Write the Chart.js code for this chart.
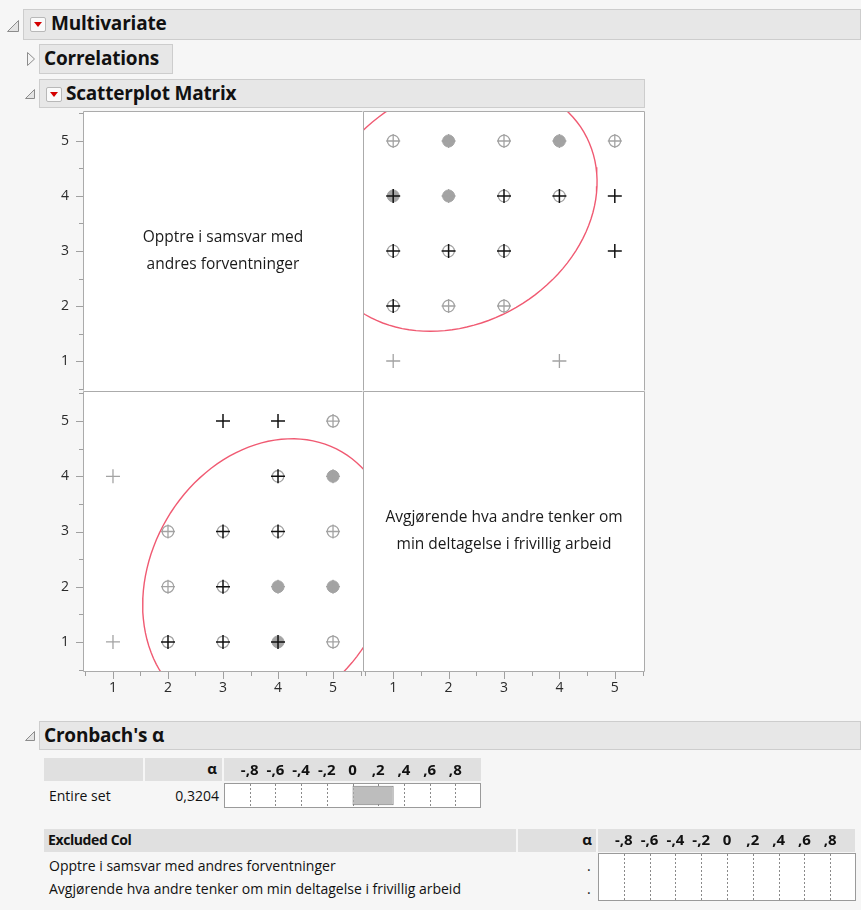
<!DOCTYPE html>
<html>
<head>
<meta charset="utf-8">
<script src="https://cdn.jsdelivr.net/npm/chart.js@4.4.0/dist/chart.umd.min.js"></script>
<style>
  body { margin: 0; background: #f6f6f6; font-family: "Open Sans", sans-serif; color: #111; }
  #page { position: relative; width: 861px; height: 910px; overflow: hidden; }
  .abs { position: absolute; }
  .hdr { position: absolute; background: #e7e7e7; border: 1px solid #cdcdcd; box-sizing: border-box;
         font-weight: bold; font-size: 19px; letter-spacing: -0.2px; white-space: nowrap; }
  .hdr span { position: absolute; top: 0px; }
  .btn { position: absolute; width: 16px; height: 15px; background: #fafafa; border: 1px solid #b8b8b8;
         box-sizing: border-box; border-radius: 2px; }
  .btn:after { content: ""; position: absolute; left: 3px; top: 4px; border-left: 4px solid transparent;
         border-right: 4px solid transparent; border-top: 5px solid #d40000; }
  .cell { position: absolute; background: #e0e0e0; font-size: 14px; }
  .txt { position: absolute; font-size: 14px; white-space: nowrap; }
  canvas { position: absolute; }
</style>
</head>
<body>
<div id="page">
  <!-- outline headers -->
  <svg class="abs" style="left:6px;top:19px" width="14" height="14"><polygon points="1.5,12.5 12.5,12.5 12.5,1.5" fill="#e4e4e4" stroke="#8c8c8c"/></svg>
  <div class="hdr" style="left:23px;top:9px;width:838px;height:31px"><div class="btn" style="left:6px;top:7px"></div><span style="left:27px">Multivariate</span></div>

  <svg class="abs" style="left:26px;top:51px" width="10" height="16"><polygon points="1.5,1.5 8.5,8 1.5,14.5" fill="#f4f4f4" stroke="#8c8c8c"/></svg>
  <div class="hdr" style="left:39px;top:44px;width:134px;height:30px"><span style="left:4px">Correlations</span></div>

  <svg class="abs" style="left:24px;top:88px" width="12" height="12"><polygon points="1.5,10.5 10.5,10.5 10.5,1.5" fill="#e4e4e4" stroke="#8c8c8c"/></svg>
  <div class="hdr" style="left:39px;top:79px;width:606px;height:29px"><div class="btn" style="left:6px;top:7px"></div><span style="left:26px">Scatterplot Matrix</span></div>

  <svg class="abs" style="left:24px;top:730px" width="12" height="12"><polygon points="1.5,10.5 10.5,10.5 10.5,1.5" fill="#e4e4e4" stroke="#8c8c8c"/></svg>
  <div class="hdr" style="left:39px;top:721px;width:822px;height:29px"><span style="left:4px">Cronbach's α</span></div>

  <!-- scatterplot matrix -->
  <canvas id="cTL" style="left:43px;top:111px" width="320" height="280"></canvas>
  <canvas id="cTR" style="left:363px;top:111px" width="282" height="280"></canvas>
  <canvas id="cBL" style="left:43px;top:391px" width="320" height="317"></canvas>
  <canvas id="cBR" style="left:363px;top:391px" width="282" height="317"></canvas>

  <!-- Cronbach table 1 -->
  <div class="cell" style="left:44px;top:758px;width:99px;height:23px"></div>
  <div class="cell" style="left:145px;top:758px;width:77px;height:23px"><span class="txt" style="right:5px;top:0px;font-weight:bold;font-size:15px">α</span></div>
  <div class="cell" style="left:224px;top:758px;width:257px;height:23px"></div>
  <div class="txt" style="left:49px;top:786px">Entire set</div>
  <div class="txt" id="alphaTxt" style="right:642px;top:786px"></div>
  <canvas id="cAlpha" style="left:224px;top:758px" width="257" height="50"></canvas>

  <!-- Cronbach table 2 -->
  <div class="cell" style="left:44px;top:829px;width:472px;height:23px"><span class="txt" style="left:4px;top:1px;font-weight:bold;letter-spacing:-0.4px">Excluded Col</span></div>
  <div class="cell" style="left:518px;top:829px;width:78px;height:23px"><span class="txt" style="right:4px;top:0px;font-weight:bold;font-size:15px">α</span></div>
  <div class="cell" style="left:598px;top:829px;width:257px;height:23px"></div>
  <div id="exclRows"></div>
  <canvas id="cExcl" style="left:598px;top:829px" width="258" height="72"></canvas>
</div>

<script>
// variables in the matrix (label lines)
const variables = [
  ['Opptre i samsvar med', 'andres forventninger'],
  ['Avgjørende hva andre tenker om', 'min deltagelse i frivillig arbeid']
];
const scaleTicks = [1, 2, 3, 4, 5];

// distinct value pairs and how JMP drew them
const opptre     = [5, 5, 5, 5, 5, 4, 4, 4, 4, 4, 3, 3, 3, 3, 2, 2, 2, 1, 1];
const avgjorende = [1, 2, 3, 4, 5, 1, 2, 3, 4, 5, 1, 2, 3, 5, 1, 2, 3, 1, 4];
const markType   = ['cp', 'dot', 'cp', 'dot', 'cp', 'bdot', 'dot', 'bc', 'bc', 'b',
                    'bc', 'bc', 'bc', 'b', 'bc', 'cp', 'cp', 'g', 'g'];

// 95% density ellipse (opptre, avgjorende)
const ellipseMean = [3.82, 2.15];
const ellipseHalf = [2.28, 2.53];
const ellipseR = 0.19;

// Cronbach's alpha
const alphaTicks = [-0.8, -0.6, -0.4, -0.2, 0, 0.2, 0.4, 0.6, 0.8];
const alphaTickLabels = ['-,8', '-,6', '-,4', '-,2', '0', ',2', ',4', ',6', ',8'];
const alphaSets = ['Entire set'];
const alphaValues = [0.3204];
const excludedCols = ['Opptre i samsvar med andres forventninger',
                      'Avgjørende hva andre tenker om min deltagelse i frivillig arbeid'];
const excludedAlpha = [null, null];

const FONT = '"Open Sans", sans-serif';

document.getElementById('alphaTxt').textContent = alphaValues[0].toFixed(4).replace('.', ',');
excludedCols.forEach((name, i) => {
  const top = 856 + i * 23;
  document.getElementById('exclRows').insertAdjacentHTML('beforeend',
    '<div class="txt" style="left:49px;top:' + top + 'px">' + name + '</div>' +
    '<div class="txt" style="left:587px;top:' + top + 'px">' + (excludedAlpha[i] == null ? '.' : excludedAlpha[i]) + '</div>');
});

// frame, ticks, and the diagonal label
const jmpCell = {
  id: 'jmpCell',
  beforeDraw(chart) {
    const a = chart.chartArea, ctx = chart.ctx;
    ctx.save();
    ctx.fillStyle = '#fff';
    ctx.fillRect(a.left, a.top, a.right - a.left, a.bottom - a.top);
    ctx.restore();
  },
  afterDraw(chart, args, opts) {
    const a = chart.chartArea, ctx = chart.ctx;
    ctx.save();
    ctx.strokeStyle = '#ababab';
    ctx.lineWidth = 1;
    // shared edges are drawn by the right / lower cell only
    const l = a.left + 0.5, t = a.top + 0.5, r = a.right - 0.5, b = a.bottom - 0.5;
    ctx.beginPath();
    ctx.moveTo(l, b); ctx.lineTo(l, t); ctx.lineTo(r, t);
    if (opts.right) { ctx.moveTo(r, t); ctx.lineTo(r, b); }
    if (opts.bottom) { ctx.moveTo(l, b); ctx.lineTo(r, b); }
    ctx.stroke();
    ctx.strokeStyle = '#a0a0a0';
    const marks = [];
    scaleTicks.forEach(v => { marks.push([v, 7]); marks.push([v - 0.5, 4]); });
    marks.push([scaleTicks[scaleTicks.length - 1] + 0.5, 4]);
    const xs = chart.scales.x, ys = chart.scales.y;
    ctx.beginPath();
    if (ys.options.display) {
      marks.forEach(([v, len]) => {
        const p = Math.round(ys.getPixelForValue(v)) + 0.5;
        if (p < a.top || p > a.bottom) return;
        ctx.moveTo(a.left - len, p); ctx.lineTo(a.left, p);
      });
    }
    if (xs.options.display) {
      marks.forEach(([v, len]) => {
        const p = Math.round(xs.getPixelForValue(v)) + 0.5;
        if (p < a.left || p > a.right) return;
        ctx.moveTo(p, a.bottom); ctx.lineTo(p, a.bottom + len);
      });
    }
    ctx.stroke();
    if (opts.lines) {
      ctx.fillStyle = '#1a1a1a';
      ctx.font = '15.5px ' + FONT;
      ctx.textAlign = 'center';
      ctx.textBaseline = 'middle';
      const cx = (a.left + a.right) / 2, cy = (a.top + a.bottom) / 2;
      opts.lines.forEach((ln, i) => ctx.fillText(ln, cx, cy + (i - (opts.lines.length - 1) / 2) * 27));
    }
    ctx.restore();
  }
};

function cellScale(axis, show) {
  return {
    type: 'linear', min: 0.455, max: 5.545, display: show,
    grid: { display: false, drawTicks: false },
    border: { display: false },
    ticks: { color: '#2a2a2a', font: { family: FONT, size: 14 }, padding: axis === 'x' ? 8 : 14 },
    afterBuildTicks: s => { s.ticks = scaleTicks.map(v => ({ value: v })); },
    afterFit: s => {
      if (!s.options.display) return;
      if (axis === 'x') s.height = 36; else s.width = 40;
      s.paddingTop = s.paddingBottom = s.paddingLeft = s.paddingRight = 0;
    }
  };
}

function pick(types, swap) {
  const pts = [];
  markType.forEach((t, i) => {
    if (!types.includes(t)) return;
    pts.push(swap ? { x: avgjorende[i], y: opptre[i] } : { x: opptre[i], y: avgjorende[i] });
  });
  return pts;
}

function ellipse(swap) {
  const pts = [];
  for (let d = 0; d <= 360; d += 3) {
    const t = d * Math.PI / 180;
    const o = ellipseMean[0] + ellipseHalf[0] * Math.cos(t);
    const v = ellipseMean[1] + ellipseHalf[1] * (ellipseR * Math.cos(t) + Math.sqrt(1 - ellipseR * ellipseR) * Math.sin(t));
    pts.push(swap ? { x: v, y: o } : { x: o, y: v });
  }
  return pts;
}

function scatterData(swap) {
  return {
    datasets: [
      { data: ellipse(swap), showLine: true, pointRadius: 0, borderColor: '#f05a72', borderWidth: 1.4,
        clip: 0, order: 10 },
      { data: pick(['dot', 'bdot'], swap), pointStyle: 'circle', pointRadius: 6, backgroundColor: '#a3a3a3',
        borderColor: '#a3a3a3', borderWidth: 1, order: 4 },
      { data: pick(['cp', 'bc'], swap), pointStyle: 'circle', pointRadius: 5.8, backgroundColor: 'rgba(0,0,0,0)',
        borderColor: '#a3a3a3', borderWidth: 1.3, order: 3 },
      { data: pick(['cp', 'dot', 'g'], swap), pointStyle: 'cross', pointRadius: 7, borderColor: '#a3a3a3',
        borderWidth: 1.3, order: 2 },
      { data: pick(['bc', 'b', 'bdot'], swap), pointStyle: 'cross', pointRadius: 7, borderColor: '#111',
        borderWidth: 1.5, order: 1 }
    ]
  };
}

function cellChart(id, showX, showY, data, lines, right, bottom) {
  new Chart(document.getElementById(id), {
    type: 'scatter',
    data: data || { datasets: [] },
    options: {
      responsive: false, animation: false,
      layout: { padding: 0, autoPadding: false },
      plugins: { legend: { display: false }, tooltip: { enabled: false },
                 jmpCell: { lines: lines, right: right, bottom: bottom } },
      scales: { x: cellScale('x', showX), y: cellScale('y', showY) }
    },
    plugins: [jmpCell]
  });
}

cellChart('cTL', false, true, null, variables[0], false, false);
cellChart('cTR', false, false, scatterData(true), null, true, false);
cellChart('cBL', true, true, scatterData(false), null, false, true);
cellChart('cBR', true, false, null, variables[1], true, true);

// alpha bar boxes
const alphaBox = {
  id: 'alphaBox',
  beforeDatasetsDraw(chart) {
    const a = chart.chartArea, ctx = chart.ctx, xs = chart.scales.x;
    ctx.save();
    ctx.fillStyle = '#fff';
    ctx.fillRect(a.left, a.top, a.right - a.left, a.bottom - a.top);
    ctx.strokeStyle = '#8a8a8a';
    ctx.setLineDash([2, 2]);
    ctx.beginPath();
    alphaTicks.forEach(v => {
      const p = Math.round(xs.getPixelForValue(v)) + 0.5;
      ctx.moveTo(p, a.top + 1); ctx.lineTo(p, a.bottom - 1);
    });
    ctx.stroke();
    ctx.restore();
  },
  afterDraw(chart) {
    const a = chart.chartArea, ctx = chart.ctx;
    ctx.save();
    ctx.strokeStyle = '#9a9a9a';
    ctx.strokeRect(a.left + 0.5, a.top + 0.5, a.right - a.left - 1, a.bottom - a.top - 1);
    ctx.restore();
  }
};

function alphaChart(id, labels, values, axisH, barPct) {
  new Chart(document.getElementById(id), {
    type: 'bar',
    data: { labels: labels, datasets: [{ data: values, backgroundColor: '#bdbdbd', borderColor: '#7c7c7c',
            borderWidth: 1, borderSkipped: false, barPercentage: barPct, categoryPercentage: 1 }] },
    options: {
      indexAxis: 'y', responsive: false, animation: false,
      layout: { padding: 0, autoPadding: false },
      plugins: { legend: { display: false }, tooltip: { enabled: false } },
      scales: {
        x: {
          position: 'top', min: -1, max: 1,
          grid: { display: false, drawTicks: false }, border: { display: false },
          ticks: { color: '#111', font: { family: FONT, size: 15, weight: 'bold' }, padding: 3,
                   maxRotation: 0, autoSkip: false,
                   callback: (v, i) => alphaTickLabels[i] },
          afterBuildTicks: s => { s.ticks = alphaTicks.map(v => ({ value: v })); },
          afterFit: s => { s.height = axisH; s.paddingLeft = s.paddingRight = 0; }
        },
        y: { display: false }
      }
    },
    plugins: [alphaBox]
  });
}

alphaChart('cAlpha', alphaSets, alphaValues, 25, 0.78);
alphaChart('cExcl', excludedCols, excludedAlpha, 24, 0.78);
</script>
</body>
</html>
